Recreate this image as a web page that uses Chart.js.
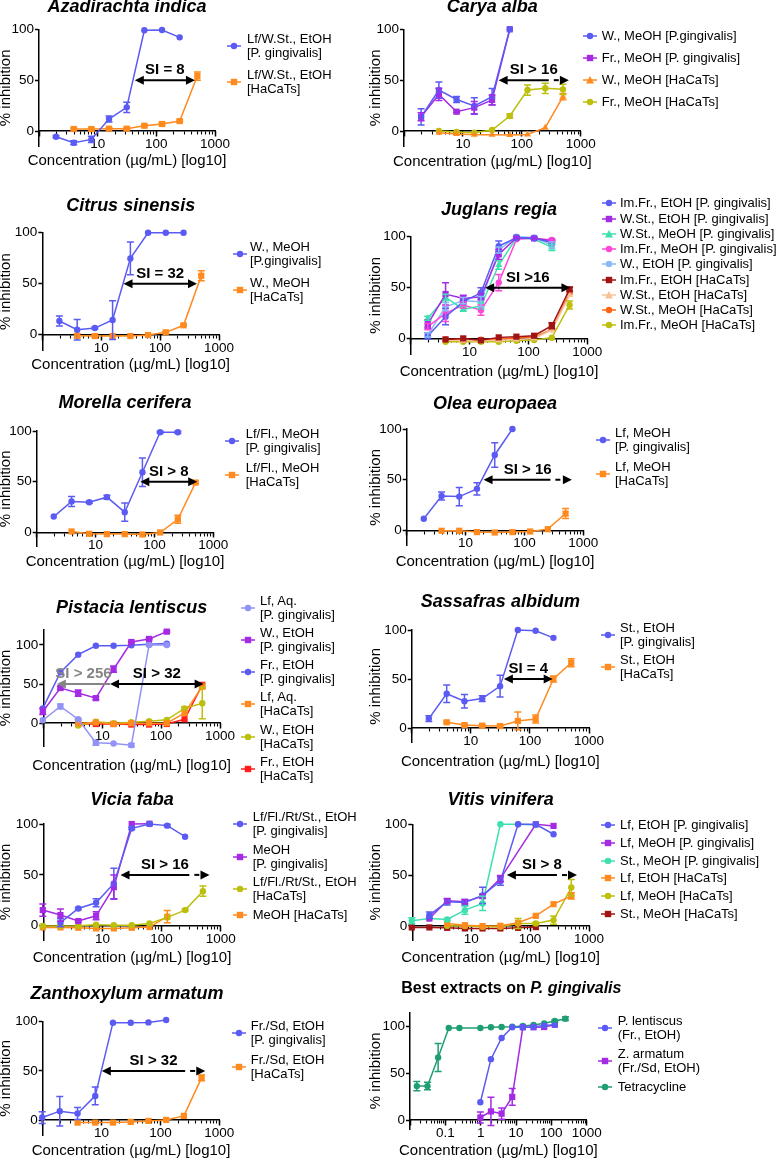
<!DOCTYPE html>
<html>
<head>
<meta charset="utf-8">
<script src="https://cdn.jsdelivr.net/npm/chart.js@4.4.0/dist/chart.umd.min.js"></script>
<style>
  body { margin: 0; background: #fff; }
  #page { position: relative; width: 777px; height: 1159px; overflow: hidden; background: #fff;
          font-family: "Liberation Sans", Arial, Helvetica, sans-serif; }
  canvas { position: absolute; }
  .entry { position: absolute; font-size: 13px; line-height: 14px; white-space: nowrap; color: #000; }
</style>
</head>
<body>
<div id="page"></div>
<script>
const N = null;
// concentrations (µg/mL), two-fold dilution series
const conc = [0.98, 1.95, 3.91, 7.81, 15.6, 31.3, 62.5, 125, 250, 500];

// Azadirachta indica
const azaPg    = [N, -5.6, -11.5, -8.2, 11.8, 23.3, 99, 99.3, 92.1, N];
const azaPgErr = [0, 1, 2, 3, 3, 5, 0, 0, 0, 0];
const azaHa    = [N, N, 2, 2, 2.3, 2.3, 5.2, 6.9, 9.8, 54];
const azaHaErr = [0, 0, 1, 1, 1, 1, 1, 1, 1, 4];

// Carya alba
const carWPg     = [N, 14, 40.3, 31, 24.6, 33.8, 100, N, N, N];
const carWPgErr  = [0, 8, 8, 3, 8, 8, 0, 0, 0, 0];
const carFrPg    = [N, 14, 36, 19, 23, 30.5, 100, N, N, N];
const carFrPgErr = [0, 4, 6, 1, 6, 5, 0, 0, 0, 0];
const carWHa     = [N, N, -1.6, -3, -3.6, -3.6, -4, -3.3, 3.3, 33.8];
const carWHaErr  = [0, 0, 0, 0, 0, 0, 0, 0, 0, 3];
const carFrHa    = [N, N, 0, -1, -1.6, 1, 14.8, 40.3, 42, 41];
const carFrHaErr = [0, 0, 0, 0, 0, 0, 2, 5, 5, 5];

// Citrus sinensis
const citPg    = [N, 13.4, 4.9, 6.5, 14.4, 74.8, 100, 100, 100, N];
const citPgErr = [0, 5, 10, 1, 19, 16, 0, 0, 0, 0];
const citHa    = [N, N, -1, -1.3, -1.3, -1.3, -0.3, 2.3, 9.2, 57.8];
const citHaErr = [0, 0, 2, 1, 0, 0, 0, 1, 1, 5];

// Juglans regia
const jugImFrEtPg    = [N, 2.6, 21.6, 36.3, 45, 90.8, 99, 98.4, 94.4, N];
const jugImFrEtPgErr = [0, 3, 8, 2, 5, 5, 1, 1, 2, 0];
const jugWStEtPg     = [N, 14.4, 43.8, 39.5, 41.2, 82.7, 99, 98.4, 95.8, N];
const jugWStEtPgErr  = [0, 4, 11, 3, 3, 5, 1, 1, 1, 0];
const jugWStMePg     = [N, 20, 40.5, 29, 32, 72.2, 99, 97.7, 89.5, N];
const jugWStMePgErr  = [0, 2, 3, 2, 3, 4, 0, 0, 3, 0];
const jugImFrMePg    = [N, 11.8, 24.8, 33, 28, 55, 97.4, 98.4, 96.7, N];
const jugImFrMePgErr = [0, 3, 8, 3, 5, 8, 0, 0, 1, 0];
const jugWEtPg       = [N, 3.6, 31.4, 37.3, 36.3, 87, 100, 99.3, 91.8, N];
const jugWEtPgErr    = [0, 2, 4, 3, 5, 3, 0, 0, 3, 0];
const jugImFrEtHa    = [N, N, -0.7, 0.3, -1.6, 1.3, 2, 2.9, 12.7, 48.4];
const jugImFrEtHaErr = [0, 0, 0, 0, 0, 0, 0, 0, 3, 2];
const jugWStEtHa     = [N, N, -1.3, -2, -2, -1.6, -0.7, 0.3, 8.5, 42.8];
const jugWStMeHa     = [N, N, -0.7, -1.3, -1, 0, 0.7, 1.6, 9.2, 44.4];
const jugImFrMeHa    = [N, N, -3, -3, -3, -3, -2, -1.3, 1, 33];
const jugImFrMeHaErr = [0, 0, 0, 0, 0, 0, 0, 0, 0, 4];

// Morella cerifera
const morPg    = [N, 15.7, 30.5, 29.8, 34.8, 20, 59.3, 98.7, 98.7, N];
const morPgErr = [0, 0, 5, 1, 2, 9, 14, 1, 1, 0];
const morHa    = [N, N, 1, -1.3, -1.6, -1.6, -2, 0, 13, 49.2];
const morHaErr = [0, 0, 0, 0, 0, 0, 0, 0, 4, 1];

// Olea europaea
const olePg    = [N, 11.5, 34, 33.4, 41, 74.4, 100, N, N, N];
const olePgErr = [0, 0, 4, 9, 6, 12, 0, 0, 0, 0];
const oleHa    = [N, N, -0.3, -0.3, -1.6, -2, -1.6, -1, 1.3, 16.7];
const oleHaErr = [0, 0, 0, 0, 0, 0, 0, 0, 0, 5];

// Pistacia lentiscus
const pisLfPg    = [3.8, 21.4, 5.1, -25, -26, -28, 100, 100, N, N];
const pisLfPgErr = [0, 3, 1, 3, 0, 2, 1, 1, 0, 0];
const pisWPg     = [15, 45, 38.5, 32, 69, 103.8, 107.7, 117, N, N];
const pisWPgErr  = [4, 2, 4, 2, 4, 1, 1, 1, 0, 0];
const pisFrPg    = [19, 65, 87.6, 99, 99, 99.6, 101, 101.7, N, N];
const pisLfHa    = [N, N, 0, 1, -1, 0, 0, 0, 13, 47];
const pisLfHaErr = [0, 0, 0, 0, 0, 0, 0, 0, 0, 3];
const pisWHa     = [N, N, -3, 2, 0, 1.3, 2.6, 4.3, 19, 25.6];
const pisWHaErr  = [0, 0, 0, 0, 0, 0, 0, 0, 2, 20];
const pisFrHa    = [N, N, -1, -1, -1, -1.7, -1.7, -1, 5, 49];

// Sassafras albidum
const sasPg    = [N, 9.6, 35, 27.3, 30, 42.7, 100, 99.3, 92, N];
const sasPgErr = [0, 3, 9, 7, 3, 11, 0, 0, 0, 0];
const sasHa    = [N, N, 5.8, 3, 2.4, 2, 7.2, 9.2, 50, 66.6];
const sasHaErr = [0, 0, 1, 1, 1, 1, 9, 4, 3, 4];

// Vicia faba
const vicEtPg    = [N, 3, 17, 22.6, 41.6, 95.7, 100, 98.4, 87.5, N];
const vicEtPgErr = [0, 4, 1, 4, 15, 1, 1, 1, 0, 0];
const vicMePg    = [15.4, 10.5, 4.6, 9.8, 38, 100, 100.3, N, N, N];
const vicMePgErr = [6, 6, 1, 4, 12, 0, 0, 0, 0, 0];
const vicEtHa    = [-0.3, -0.3, 0, 1, 0.6, 0.6, 2.3, 8.2, 15.4, 34];
const vicEtHaErr = [0, 0, 0, 0, 0, 0, 0, 0, 1, 5];
const vicMeHa    = [-1.6, -1.6, -2, -2.6, -2.6, -2, -1.3, 8.9, N, N];
const vicMeHaErr = [0, 0, 0, 0, 0, 0, 0, 6, 0, 0];

// Vitis vinifera
const vitLfEtPg    = [N, 10.5, 23.6, 23, 30, 44, 100, 100, 90.2, N];
const vitLfEtPgErr = [0, 3, 3, 3, 8, 4, 0, 0, 0, 0];
const vitLfMePg    = [N, 7.2, 24.6, 23.6, 29.2, 46.5, N, 100, 98.4, N];
const vitLfMePgErr = [0, 0, 2, 2, 2, 3, 0, 0, 0, 0];
const vitStMePg    = [5, 7.2, 6.2, 15.4, 22, 100, 100, 99.3, N, N];
const vitStMePgErr = [3, 0, 1, 4, 7, 0, 0, 0, 0, 0];
const vitLfEtHa    = [N, N, 2.3, 0.6, -0.3, 0, 3, 9.8, 21.3, 29.5];
const vitLfEtHaErr = [0, 0, 0, 0, 0, 0, 0, 0, 0, 3];
const vitLfMeHa    = [N, N, 0, -0.3, -1, -1, 2.3, 2.3, 5.6, 37.7];
const vitLfMeHaErr = [0, 0, 0, 0, 0, 0, 5, 1, 4, 8];
const vitStMeHa    = [-1.6, -1.6, -2, -2.6, -2.6, -2.6, -2, -1.3, N, N];

// Zanthoxylum armatum
const zanPg    = [2.7, 9.2, 6.8, 24.7, 99, 99, 99.3, 101.7, N, N];
const zanPgErr = [6, 15, 6, 9, 0, 0, 0, 0, 0, 0];
const zanHa    = [N, N, -2.4, -2.4, -2.4, -1.7, -0.7, 0.3, 4.4, 43];
const zanHaErr = [0, 0, 0, 0, 0, 0, 0, 0, 0, 3];

// Tetracycline reference
const tetraConc = [0.0156, 0.0313, 0.0625, 0.125, 0.25, 0.98, 1.95, 3.91, 7.81, 15.6, 31.3, 62.5, 125, 250];
const tetra     = [36.2, 36.2, 66.7, 98.2, 98.2, 98.2, 99, 99.3, 99.6, 100.4, 101.4, 103.2, 105.7, 108.2];
const tetraErr  = [5, 4, 15, 0, 0, 0, 0, 0, 0, 0, 0, 0, 1, 2];

const yTicks = [0, 50, 100];
const xLabels = ['10', '100', '1000'];
const xLabelsBest = ['0.1', '1', '10', '100', '1000'];
const xTitle = 'Concentration (µg/mL) [log10]';
const yTitle = '% inhibition';

const BLUE = '#5b5bf4', ORANGE = '#ff8a1e', PURPLE = '#a52ae4', OLIVE = '#bcbf0c',
      TEAL = '#3fe0b0', PINK = '#ff48d8', LIGHTBLUE = '#88bbf6', DARKRED = '#a01414',
      PEACH = '#f7c396', ORED = '#ff6414', PERI = '#9292f6', RED = '#ff1c1c', GREEN = '#1f9e74';

const FONT = '"Liberation Sans", Arial, Helvetica, sans-serif';
Chart.defaults.font.family = FONT;
Chart.defaults.color = '#000';

const TITLE_FONT = 'italic bold 18px ' + FONT;
const XT_FONT = '15px ' + FONT;
const YT_SIZE = 15;

const ser = (label, xs, ys, errs, color, shape) => {
  const data = [];
  xs.forEach((x, i) => {
    if (ys[i] !== null) data.push({ x, y: ys[i], e: errs ? errs[i] : 0 });
  });
  return {
    label, data, borderColor: color, backgroundColor: color, pointStyle: shape,
    pointRadius: shape === 'rect' ? 4.4 : (shape === 'triangle' ? 4 : 3.2),
    pointBorderWidth: 0, borderWidth: 1.5, tension: 0, clip: false
  };
};

// error bars drawn with the y scale of each chart
const errorBars = {
  id: 'errorBars',
  afterDatasetsDraw(chart) {
    const ctx = chart.ctx, ys = chart.scales.y;
    chart.data.datasets.forEach((ds, di) => {
      const meta = chart.getDatasetMeta(di);
      ctx.save();
      ctx.strokeStyle = ds.borderColor;
      ctx.lineWidth = 1.5;
      meta.data.forEach((pt, i) => {
        const d = ds.data[i];
        if (!d.e) return;
        const y1 = ys.getPixelForValue(d.y + d.e), y2 = ys.getPixelForValue(d.y - d.e);
        ctx.beginPath();
        ctx.moveTo(pt.x, y1); ctx.lineTo(pt.x, y2);
        ctx.moveTo(pt.x - 3.5, y1); ctx.lineTo(pt.x + 3.5, y1);
        ctx.moveTo(pt.x - 3.5, y2); ctx.lineTo(pt.x + 3.5, y2);
        ctx.stroke();
      });
      ctx.restore();
    });
  }
};

const head = (ctx, x, y, dir) => {
  ctx.beginPath();
  ctx.moveTo(x, y);
  ctx.lineTo(x - dir * 9, y - 4.5);
  ctx.lineTo(x - dir * 9, y + 4.5);
  ctx.closePath();
  ctx.fill();
};

// selectivity index arrows at 50 % inhibition
const siArrows = {
  id: 'siArrows',
  afterDatasetsDraw(chart, args, opts) {
    const items = opts.items || [];
    const ctx = chart.ctx, xs = chart.scales.x, y = chart.scales.y.getPixelForValue(50);
    items.forEach(it => {
      const col = it.color || '#000';
      const xa = xs.getPixelForValue(it.from), xb = xs.getPixelForValue(it.to);
      const noRight = it.rightHead === false;
      const solidEnd = it.solidTo ? xs.getPixelForValue(it.solidTo) : (noRight ? xb : xb - 8);
      ctx.save();
      ctx.strokeStyle = col; ctx.fillStyle = col; ctx.lineWidth = 2;
      ctx.beginPath(); ctx.moveTo(xa + 8, y); ctx.lineTo(solidEnd, y); ctx.stroke();
      if (it.solidTo) {
        ctx.setLineDash([5, 5]); ctx.lineDashOffset = 5;
        ctx.beginPath(); ctx.moveTo(solidEnd, y); ctx.lineTo(xb - 8, y); ctx.stroke();
        ctx.setLineDash([]);
      }
      head(ctx, xa, y, -1);
      if (!noRight) head(ctx, xb, y, 1);
      ctx.font = 'bold 15px ' + FONT;
      ctx.textAlign = 'center'; ctx.textBaseline = 'middle';
      ctx.fillText(it.label, (xa + xb) / 2, y - 10);
      ctx.restore();
    });
  }
};

// panel title (possibly mixed upright / italic) and x-axis title, centred on the plot area
const panelText = {
  id: 'panelText',
  afterDraw(chart, args, opts) {
    if (!opts.parts) return;
    const ctx = chart.ctx, ca = chart.chartArea, cx = (ca.left + ca.right) / 2;
    ctx.save();
    ctx.fillStyle = '#000'; ctx.textBaseline = 'middle'; ctx.textAlign = 'left';
    let total = 0;
    opts.parts.forEach(p => { ctx.font = p.font; total += ctx.measureText(p.text).width; });
    let x = cx + opts.shift - total / 2;
    opts.parts.forEach(p => { ctx.font = p.font; ctx.fillText(p.text, x, opts.titleY); x += ctx.measureText(p.text).width; });
    ctx.font = XT_FONT; ctx.textAlign = 'center';
    ctx.fillText(xTitle, cx, opts.xTitleY);
    ctx.restore();
  }
};

Chart.register(errorBars, siArrows, panelText);

const logTicks = (min, max, majorOnly) => {
  const out = [];
  for (let e = Math.floor(Math.log10(min)); e <= Math.ceil(Math.log10(max)); e++) {
    for (let m = 1; m <= 9; m++) {
      if (majorOnly && m > 1) continue;
      const v = +(m * Math.pow(10, e)).toPrecision(6);
      if (v >= min * 0.9999 && v <= max * 1.0001) out.push({ value: v, major: m === 1 });
    }
  }
  return out;
};

const panels = [
  { title: 'Azadirachta indica', col: 0, l: 39, r: 215, t: 29.3, b: 146.3, yMin: -15, yMax: 100,
    titleY: 7.3, xTitleY: 161.3, legend: { mx: 227, tx: 247, y: 39, gap: 36 },
    si: [{ from: 43, to: 455, label: 'SI = 8' }],
    sets: [ser('Lf/W.St., EtOH\n[P. gingivalis]', conc, azaPg, azaPgErr, BLUE, 'circle'),
           ser('Lf/W.St., EtOH\n[HaCaTs]', conc, azaHa, azaHaErr, ORANGE, 'rect')] },
  { title: 'Carya alba', col: 1, l: 404, r: 580.7, t: 29.3, b: 146.3, yMin: -15, yMax: 100,
    titleY: 7.3, xTitleY: 162.3, legend: { mx: 582.7, tx: 601.7, y: 36, gap: 21.9 },
    si: [{ from: 40.4, solidTo: 287, to: 630, label: 'SI > 16' }],
    sets: [ser('W., MeOH [P.gingivalis]', conc, carWPg, carWPgErr, BLUE, 'circle'),
           ser('Fr., MeOH [P. gingivalis]', conc, carFrPg, carFrPgErr, PURPLE, 'rect'),
           ser('W., MeOH [HaCaTs]', conc, carWHa, carWHaErr, ORANGE, 'triangle'),
           ser('Fr., MeOH [HaCaTs]', conc, carFrHa, carFrHaErr, OLIVE, 'circle')] },
  { title: 'Citrus sinensis', col: 0, l: 42.3, r: 219, t: 232.7, b: 350.5, yMin: -15.5, yMax: 100,
    titleY: 206, xTitleY: 365, legend: { mx: 233, tx: 250, y: 247.3, gap: 35.4 },
    si: [{ from: 23.9, to: 423, label: 'SI = 32' }],
    sets: [ser('W., MeOH\n[P.gingivalis]', conc, citPg, citPgErr, BLUE, 'circle'),
           ser('W., MeOH\n[HaCaTs]', conc, citHa, citHaErr, ORANGE, 'rect')] },
  { title: 'Juglans regia', col: 1, l: 410.7, r: 587.3, t: 236.7, b: 354, yMin: -15, yMax: 100,
    titleY: 210, xTitleY: 371.7, legend: { mx: 601.7, tx: 620, y: 203.3, gap: 15.25 },
    si: [{ from: 18.4, to: 517, label: 'SI >16' }],
    sets: [ser('Im.Fr., EtOH [P. gingivalis]', conc, jugImFrEtPg, jugImFrEtPgErr, BLUE, 'circle'),
           ser('W.St., EtOH [P. gingivalis]', conc, jugWStEtPg, jugWStEtPgErr, PURPLE, 'rect'),
           ser('W.St., MeOH [P. gingivalis]', conc, jugWStMePg, jugWStMePgErr, TEAL, 'triangle'),
           ser('Im.Fr., MeOH [P. gingivalis]', conc, jugImFrMePg, jugImFrMePgErr, PINK, 'circle'),
           ser('W., EtOH [P. gingivalis]', conc, jugWEtPg, jugWEtPgErr, LIGHTBLUE, 'circle'),
           ser('Im.Fr., EtOH [HaCaTs]', conc, jugImFrEtHa, jugImFrEtHaErr, DARKRED, 'rect'),
           ser('W.St., EtOH [HaCaTs]', conc, jugWStEtHa, null, PEACH, 'triangle'),
           ser('W.St., MeOH [HaCaTs]', conc, jugWStMeHa, null, ORED, 'circle'),
           ser('Im.Fr., MeOH [HaCaTs]', conc, jugImFrMeHa, jugImFrMeHaErr, OLIVE, 'circle')] },
  { title: 'Morella cerifera', col: 0, l: 36.7, r: 213.3, t: 431, b: 546.7, yMin: -14, yMax: 100,
    titleY: 403.3, xTitleY: 562, legend: { mx: 225, tx: 245.7, y: 434, gap: 34.3 },
    si: [{ from: 57.5, to: 532, label: 'SI > 8' }],
    sets: [ser('Lf/Fl., MeOH\n[P. gingivalis]', conc, morPg, morPgErr, BLUE, 'circle'),
           ser('Lf/Fl., MeOH\n[HaCaTs]', conc, morHa, morHaErr, ORANGE, 'rect')] },
  { title: 'Olea europaea', col: 1, l: 406.7, r: 583.3, t: 429, b: 545.7, yMin: -15, yMax: 100,
    titleY: 404, xTitleY: 562, legend: { mx: 596, tx: 615, y: 433.3, gap: 33.4 },
    si: [{ from: 20.2, solidTo: 276, to: 640, label: 'SI > 16' }],
    sets: [ser('Lf, MeOH\n[P. gingivalis]', conc, olePg, olePgErr, BLUE, 'circle'),
           ser('Lf, MeOH\n[HaCaTs]', conc, oleHa, oleHaErr, ORANGE, 'rect')] },
  { title: 'Pistacia lentiscus', col: 0, l: 43.3, r: 220, t: 629.3, b: 746.7, yMin: -30, yMax: 120,
    titleY: 608.3, xTitleY: 766, legend: { mx: 240.7, tx: 260, y: 600.7, gap: 32.2 },
    si: [{ from: 1.7, to: 13.6, label: 'SI > 256', color: '#858585', rightHead: false },
         { from: 13.6, to: 527, label: 'SI > 32' }],
    sets: [ser('Lf, Aq.\n[P. gingivalis]', conc, pisLfPg, pisLfPgErr, PERI, 'circle'),
           ser('W., EtOH\n[P. gingivalis]', conc, pisWPg, pisWPgErr, PURPLE, 'rect'),
           ser('Fr., EtOH\n[P. gingivalis]', conc, pisFrPg, null, BLUE, 'circle'),
           ser('Lf, Aq.\n[HaCaTs]', conc, pisLfHa, pisLfHaErr, ORANGE, 'rect'),
           ser('W., EtOH\n[HaCaTs]', conc, pisWHa, pisWHaErr, OLIVE, 'circle'),
           ser('Fr., EtOH\n[HaCaTs]', conc, pisFrHa, null, RED, 'rect')] },
  { title: 'Sassafras albidum', col: 1, l: 411.7, r: 589, t: 630, b: 742.7, yMin: -15, yMax: 100,
    titleY: 601.7, xTitleY: 762, legend: { mx: 600.7, tx: 620, y: 628.3, gap: 31.7 },
    si: [{ from: 36.3, to: 243, label: 'SI = 4' }],
    sets: [ser('St., EtOH\n[P. gingivalis]', conc, sasPg, sasPgErr, BLUE, 'circle'),
           ser('St., EtOH\n[HaCaTs]', conc, sasHa, sasHaErr, ORANGE, 'rect')] },
  { title: 'Vicia faba', col: 0, l: 43.3, r: 220.7, t: 824, b: 940, yMin: -14, yMax: 100,
    titleY: 800, xTitleY: 958.3, legend: { mx: 233, tx: 252.7, y: 816.7, gap: 32.8 },
    si: [{ from: 20.2, solidTo: 295, to: 646, label: 'SI > 16' }],
    sets: [ser('Lf/Fl./Rt/St., EtOH\n[P. gingivalis]', conc, vicEtPg, vicEtPgErr, BLUE, 'circle'),
           ser('MeOH\n[P. gingivalis]', conc, vicMePg, vicMePgErr, PURPLE, 'rect'),
           ser('Lf/Fl./Rt/St., EtOH\n[HaCaTs]', conc, vicEtHa, vicEtHaErr, OLIVE, 'circle'),
           ser('MeOH [HaCaTs]', conc, vicMeHa, vicMeHaErr, ORANGE, 'rect')] },
  { title: 'Vitis vinifera', col: 1, l: 412.3, r: 589, t: 824.3, b: 940, yMin: -14, yMax: 100,
    titleY: 800, xTitleY: 958.3, legend: { mx: 600.7, tx: 620, y: 825, gap: 17.8 },
    si: [{ from: 40.3, solidTo: 286, to: 625, label: 'SI > 8' }],
    sets: [ser('Lf, EtOH [P. gingivalis]', conc, vitLfEtPg, vitLfEtPgErr, BLUE, 'circle'),
           ser('Lf, MeOH [P. gingivalis]', conc, vitLfMePg, vitLfMePgErr, PURPLE, 'rect'),
           ser('St., MeOH [P. gingivalis]', conc, vitStMePg, vitStMePgErr, TEAL, 'circle'),
           ser('Lf, EtOH [HaCaTs]', conc, vitLfEtHa, vitLfEtHaErr, ORANGE, 'rect'),
           ser('Lf, MeOH [HaCaTs]', conc, vitLfMeHa, vitLfMeHaErr, OLIVE, 'circle'),
           ser('St., MeOH [HaCaTs]', conc, vitStMeHa, null, DARKRED, 'rect')] },
  { title: 'Zanthoxylum armatum', titleShift: -4, col: 0, l: 42.7, r: 219.3, t: 1021.7, b: 1135, yMin: -15, yMax: 100,
    titleY: 994.3, xTitleY: 1151, legend: { mx: 231.7, tx: 250.7, y: 1025.7, gap: 34.3 },
    si: [{ from: 10.1, solidTo: 263, to: 577, label: 'SI > 32' }],
    sets: [ser('Fr./Sd, EtOH\n[P. gingivalis]', conc, zanPg, zanPgErr, BLUE, 'circle'),
           ser('Fr./Sd, EtOH\n[HaCaTs]', conc, zanHa, zanHaErr, ORANGE, 'rect')] },
  { rich: [{ text: 'Best extracts on ', font: 'bold 16px ' + FONT },
           { text: 'P. gingivalis', font: 'italic bold 16px ' + FONT }], titleShift: 13, padR: 60,
    col: 1, l: 410, r: 586.7, t: 1012.3, b: 1129.4, yMin: -10, yMax: 115, xMin: 0.01, xMax: 1000,
    labels: xLabelsBest, titleY: 988.3, xTitleY: 1151, legend: { mx: 598.3, tx: 617.7, y: 1021, gap: 32.8 },
    si: [],
    sets: [ser('P. lentiscus\n(Fr., EtOH)', conc, pisFrPg, null, BLUE, 'circle'),
           ser('Z. armatum\n(Fr./Sd, EtOH)', conc, zanPg, zanPgErr, PURPLE, 'rect'),
           ser('Tetracycline', tetraConc, tetra, tetraErr, GREEN, 'circle')] }
];

const page = document.getElementById('page');
const yTitleXs = [5.5, 375.5];

const esc = s => s.replace(/&/g, '&amp;').replace(/</g, '&lt;').replace(/>/g, '&gt;');

const markerSvg = ds => {
  const c = ds.borderColor;
  let shape = `<circle cx="7" cy="5" r="3.2" fill="${c}"/>`;
  if (ds.pointStyle === 'rect') shape = `<rect x="3.8" y="1.8" width="6.4" height="6.4" fill="${c}"/>`;
  if (ds.pointStyle === 'triangle') shape = `<polygon points="7,1 11,8.6 3,8.6" fill="${c}"/>`;
  return `<line x1="0" y1="5" x2="14" y2="5" stroke="${c}" stroke-width="1.5"/>` + shape;
};

const drawLegend = (chart, lg) => {
  chart.data.datasets.forEach((ds, i) => {
    const lines = ds.label.split('\n');
    const row = document.createElement('div');
    row.className = 'entry';
    row.style.left = lg.mx + 'px';
    row.style.top = (lg.y + i * lg.gap - 7) + 'px';
    const mk = (lines.length - 1) * 7 + 2;
    row.innerHTML = `<svg width="14" height="10" style="position:absolute;left:0;top:${mk}px">${markerSvg(ds)}</svg>` +
      `<div style="position:absolute;left:${lg.tx - lg.mx}px;top:0">${lines.map(esc).join('<br>')}</div>`;
    page.appendChild(row);
  });
};

const makePanel = p => {
  const xMin = p.xMin || 1, xMax = p.xMax || 1000, labels = p.labels || xLabels;
  const cl = Math.round(yTitleXs[p.col] - YT_SIZE / 2);
  const ct = Math.round(p.titleY - 13);
  const yw = p.l - cl;
  const cw = Math.ceil(p.r - cl) + (p.padR || 40);
  const padRight = cw - (p.r - cl);
  const ch = Math.ceil(p.xTitleY - ct + 12);
  const padTop = p.t - ct;
  const padBottom = ch - (p.b - ct);

  const canvas = document.createElement('canvas');
  canvas.width = cw; canvas.height = ch;
  canvas.style.left = cl + 'px'; canvas.style.top = ct + 'px';
  canvas.style.width = cw + 'px'; canvas.style.height = ch + 'px';
  page.appendChild(canvas);

  const noPad = s => { s.paddingLeft = 0; s.paddingRight = 0; s.paddingTop = 0; s.paddingBottom = 0; };
  const fmt = v => String(+v.toPrecision(6));

  const chart = new Chart(canvas, {
    type: 'line',
    data: { datasets: p.sets },
    options: {
      responsive: false, animation: false, devicePixelRatio: 1, events: [],
      layout: { padding: { left: 0, top: padTop, right: padRight, bottom: padBottom } },
      plugins: {
        legend: { display: false },
        tooltip: { enabled: false },
        siArrows: { items: p.si },
        panelText: { parts: p.rich || [{ text: p.title, font: TITLE_FONT }], shift: p.titleShift || 0,
                     titleY: p.titleY - ct, xTitleY: p.xTitleY - ct }
      },
      scales: {
        x: {
          type: 'logarithmic', min: xMin, max: xMax, position: { y: 0 },
          border: { display: true, color: '#000', width: 1.5 },
          grid: { drawOnChartArea: false, drawTicks: true, tickLength: 3, tickWidth: 1.1, tickColor: '#000' },
          ticks: { autoSkip: false, maxRotation: 0, minRotation: 0, padding: 2, color: '#000', font: { size: 13.5 },
                   callback: v => labels.includes(fmt(v)) ? fmt(v) : '' },
          afterBuildTicks: s => { s.ticks = logTicks(xMin, xMax, false); },
          afterFit: noPad
        },
        xMaj: {
          axis: 'x', type: 'logarithmic', min: xMin, max: xMax, position: { y: 0 },
          border: { display: false },
          grid: { drawOnChartArea: false, drawTicks: true, tickLength: 5.5, tickWidth: 1.5, tickColor: '#000' },
          ticks: { display: false },
          afterBuildTicks: s => { s.ticks = logTicks(xMin, xMax, true); },
          afterFit: noPad
        },
        y: {
          type: 'linear', min: p.yMin, max: p.yMax, position: 'left',
          border: { display: true, color: '#000', width: 1.5 },
          grid: { drawOnChartArea: false, drawTicks: true, tickLength: 4, tickWidth: 1.5, tickColor: '#000' },
          ticks: { padding: 1, color: '#000', font: { size: 13.5 } },
          title: { display: true, text: yTitle, color: '#000', font: { size: YT_SIZE, lineHeight: 1 },
                   padding: { top: 0, bottom: 0 } },
          afterBuildTicks: s => { s.ticks = yTicks.map(v => ({ value: v })); },
          afterFit: s => { s.width = yw; noPad(s); }
        }
      }
    }
  });
  drawLegend(chart, p.legend);
  return chart;
};

const charts = panels.map(makePanel);
</script>
</body>
</html>
